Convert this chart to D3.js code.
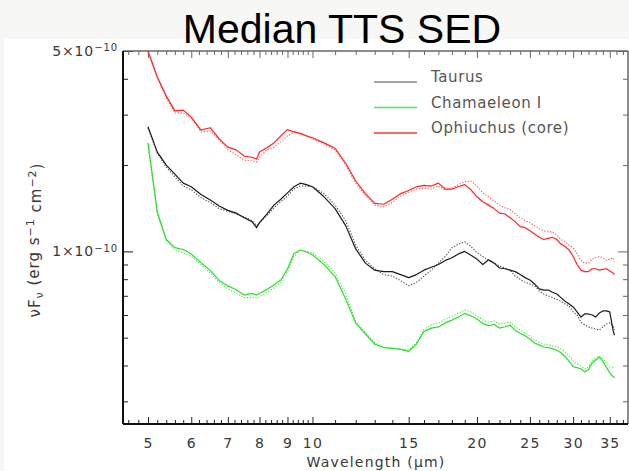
<!DOCTYPE html>
<html>
<head>
<meta charset="utf-8">
<script src="https://cdnjs.cloudflare.com/ajax/libs/d3/7.8.5/d3.min.js"></script>
<style>
    body { margin: 0; background: #f7f7f5; }
    svg { display: block; }
</style>
</head>
<body>
<svg width="629" height="471"></svg>
<script>
    // wavelength grid (micron) shared by all spectra
    var wavelength = [
        5.0, 5.2, 5.4, 5.6, 5.8, 6.0, 6.25, 6.5, 6.75, 7.0, 7.25, 7.5, 7.75,
        7.9,
        8.0, 8.25, 8.5, 8.75, 9.0, 9.25, 9.5, 9.75,
        10, 10.5, 11, 11.5, 12, 12.5, 13, 13.5, 14, 14.5,
        15, 15.5, 16, 16.5, 17, 17.5, 18, 18.5, 19, 19.5,
        20, 20.5, 21, 21.5, 22, 22.5, 23, 23.5, 24, 24.5,
        25, 25.5, 26, 26.5, 27, 27.5, 28, 28.5, 29, 29.5,
        30, 30.5, 31, 31.5, 32, 32.5, 33, 33.5, 34, 34.5,
        35, 35.5, 35.7];

    // nuFnu in units of 1e-10 erg/s/cm2 (solid = median, dotted = second median)
    var taurusSolid = [
        2.72, 2.22, 2.00, 1.86, 1.73, 1.68, 1.58, 1.51, 1.44, 1.39, 1.36, 1.31, 1.27,
        1.21,
        1.26, 1.35, 1.45, 1.52, 1.60, 1.68, 1.73, 1.71,
        1.68, 1.55, 1.41, 1.23, 1.02, 0.91, 0.86, 0.85, 0.85, 0.83,
        0.81, 0.83, 0.86, 0.88, 0.90, 0.93, 0.95, 0.98, 1.00, 0.97,
        0.94, 0.90, 0.935, 0.91, 0.875, 0.87, 0.86, 0.85, 0.83, 0.81,
        0.795, 0.77, 0.74, 0.733, 0.733, 0.72, 0.71, 0.69, 0.67, 0.655,
        0.64, 0.615, 0.59, 0.605, 0.605, 0.60, 0.59, 0.61, 0.62, 0.62,
        0.615, 0.53, 0.51];
    var taurusDotted = [
        2.70, 2.20, 1.97, 1.82, 1.69, 1.64, 1.54, 1.48, 1.41, 1.38, 1.35, 1.32, 1.28,
        1.23,
        1.26, 1.33, 1.42, 1.49, 1.56, 1.65, 1.69, 1.69,
        1.68, 1.59, 1.45, 1.28, 1.05, 0.93, 0.87, 0.83, 0.82, 0.79,
        0.76, 0.78, 0.82, 0.86, 0.91, 0.96, 1.03, 1.06, 1.08, 1.04,
        0.99, 0.96, 0.93, 0.91, 0.89, 0.875, 0.86, 0.82, 0.80, 0.78,
        0.77, 0.76, 0.73, 0.71, 0.70, 0.69, 0.68, 0.67, 0.655, 0.645,
        0.615, 0.60, 0.567, 0.554, 0.545, 0.54, 0.536, 0.532, 0.545, 0.558,
        0.563, 0.549, 0.532];
    var chaSolid = [
        2.39, 1.37, 1.10, 1.03, 1.015, 0.98, 0.914, 0.858, 0.792, 0.758, 0.735, 0.704, 0.714,
        0.704,
        0.713, 0.737, 0.764, 0.795, 0.868, 0.983, 1.011, 0.995,
        0.973, 0.899, 0.817, 0.682, 0.562, 0.515, 0.475, 0.462, 0.459, 0.455,
        0.448, 0.475, 0.526, 0.540, 0.545, 0.563, 0.576, 0.590, 0.607, 0.596,
        0.581, 0.560, 0.551, 0.556, 0.540, 0.546, 0.553, 0.530, 0.518, 0.508,
        0.495, 0.479, 0.472, 0.464, 0.462, 0.458, 0.452, 0.443, 0.430, 0.413,
        0.396, 0.393, 0.389, 0.380, 0.387, 0.408, 0.418, 0.428, 0.413, 0.394,
        0.377, 0.366, 0.362];
    var chaDotted = [
        2.33, 1.35, 1.09, 1.01, 0.99, 0.96, 0.90, 0.84, 0.78, 0.74, 0.715, 0.69, 0.69,
        0.688,
        0.693, 0.721, 0.745, 0.78, 0.85, 0.96, 1.01, 1.00,
        0.99, 0.92, 0.84, 0.71, 0.57, 0.52, 0.48, 0.465, 0.46, 0.457,
        0.453, 0.48, 0.535, 0.555, 0.563, 0.58, 0.595, 0.61, 0.625, 0.615,
        0.596, 0.576, 0.567, 0.571, 0.558, 0.563, 0.567, 0.545, 0.532, 0.519,
        0.507, 0.491, 0.483, 0.475, 0.472, 0.468, 0.464, 0.457, 0.446, 0.432,
        0.415, 0.405, 0.398, 0.389, 0.396, 0.415, 0.425, 0.432, 0.421, 0.408,
        0.396, 0.393, 0.393];
    var ophSolid = [
        5.00, 4.06, 3.48, 3.09, 3.11, 2.94, 2.65, 2.70, 2.47, 2.31, 2.26, 2.15, 2.13,
        2.10,
        2.22, 2.30, 2.39, 2.53, 2.66, 2.61, 2.58, 2.53,
        2.49, 2.39, 2.29, 2.03, 1.76, 1.59, 1.47, 1.46, 1.52, 1.59,
        1.63, 1.68, 1.70, 1.69, 1.73, 1.65, 1.65, 1.68, 1.71, 1.64,
        1.55, 1.49, 1.45, 1.41, 1.36, 1.35, 1.31, 1.27, 1.22, 1.21,
        1.18, 1.15, 1.12, 1.10, 1.11, 1.12, 1.10, 1.06, 1.04, 1.01,
        0.96, 0.90, 0.86, 0.85, 0.85, 0.87, 0.87, 0.86, 0.865, 0.87,
        0.855, 0.84, 0.83];
    var ophDotted = [
        4.96, 4.03, 3.43, 3.04, 3.04, 2.92, 2.61, 2.63, 2.45, 2.26, 2.17, 2.08, 2.07,
        2.05,
        2.13, 2.26, 2.31, 2.41, 2.53, 2.61, 2.57, 2.53,
        2.47, 2.37, 2.26, 2.00, 1.73, 1.57, 1.45, 1.43, 1.48, 1.56,
        1.61, 1.65, 1.66, 1.65, 1.69, 1.64, 1.66, 1.71, 1.75, 1.76,
        1.69, 1.60, 1.55, 1.50, 1.45, 1.42, 1.40, 1.35, 1.31, 1.28,
        1.26, 1.23, 1.20, 1.18, 1.17, 1.17, 1.14, 1.10, 1.08, 1.05,
        1.03, 0.98, 0.93, 0.91, 0.91, 0.94, 0.95, 0.96, 0.95, 0.93,
        0.94, 0.95, 0.92];

    var regions = ["Taurus", "Chamaeleon I", "Ophiuchus (core)"];

    var xTickValues = [5, 6, 7, 8, 9, 10, 15, 20, 25, 30, 35];
    var xTickLabels = ["5", "6", "7", "8", "9", "10", "15", "20", "25", "30", "35"];
    var yTickValues = [1, 5];
    var yTickMantissa = ["1", "5"];
    var yMinorValues = [0.3, 0.4, 0.5, 0.6, 0.7, 0.8, 0.9, 2, 3, 4];

    var series = [
        {name: regions[0], solid: taurusSolid, dotted: taurusDotted, color: "#1c1c1c", dotColor: "#4a4a4a", legendColor: "#8a8a8a"},
        {name: regions[1], solid: chaSolid, dotted: chaDotted, color: "#2fdc2f", dotColor: "#4ee84e", legendColor: "#44ee44"},
        {name: regions[2], solid: ophSolid, dotted: ophDotted, color: "#ff2424", dotColor: "#ff5a5a", legendColor: "#ff3535"}
    ];

    var svg = d3.select("svg");
    var plotL = 123, plotR = 628, plotT = 51, plotB = 424;

    var x = d3.scaleLog().domain([4.5, 37.8]).range([plotL, plotR]);
    var y = d3.scaleLog().domain([0.25, 5]).range([plotB, plotT]);

    // white figure area
    svg.append("rect").attr("x", 4).attr("y", 39).attr("width", 625).attr("height", 432).attr("fill", "#fff");

    svg.append("defs").append("clipPath").attr("id", "plot")
        .append("rect").attr("x", plotL).attr("y", plotT).attr("width", plotR - plotL).attr("height", plotB - plotT);

    var fontAxis = "'DejaVu Sans', sans-serif";

    // minor ticks for x
    var xMinor = d3.range(4.6, 10, 0.2).concat(d3.range(11, 38, 1))
        .filter(function(v) { return !xTickValues.some(function(m) { return Math.abs(m - v) < 1e-6; }); });

    function styleAxis(g, color) {
        g.select(".domain").remove();
        g.selectAll(".tick line").attr("stroke", color).attr("stroke-width", 1);
    }

    // bottom axis
    svg.append("g").attr("transform", "translate(0," + plotB + ")")
        .call(d3.axisBottom(x).tickValues(xMinor).tickSize(-4).tickFormat(""))
        .call(styleAxis, "#222");
    var xb = svg.append("g").attr("transform", "translate(0," + plotB + ")")
        .call(d3.axisBottom(x).tickValues(xTickValues).tickSize(-7).tickPadding(14)
            .tickFormat(function(d, i) { return xTickLabels[i]; }))
        .call(styleAxis, "#222");
    xb.selectAll(".tick text").attr("font-family", fontAxis).attr("font-size", 14)
        .attr("letter-spacing", 1.2).attr("fill", "#383838");

    // top axis (mirrored)
    svg.append("g").attr("transform", "translate(0," + plotT + ")")
        .call(d3.axisTop(x).tickValues(xMinor).tickSize(-4).tickFormat(""))
        .call(styleAxis, "#666");
    svg.append("g").attr("transform", "translate(0," + plotT + ")")
        .call(d3.axisTop(x).tickValues(xTickValues).tickSize(-7).tickFormat(""))
        .call(styleAxis, "#666");

    // left axis
    svg.append("g").attr("transform", "translate(" + plotL + ",0)")
        .call(d3.axisLeft(y).tickValues(yMinorValues).tickSize(-5).tickFormat(""))
        .call(styleAxis, "#222");
    var yl = svg.append("g").attr("transform", "translate(" + plotL + ",0)")
        .call(d3.axisLeft(y).tickValues(yTickValues).tickSize(-10).tickPadding(5))
        .call(styleAxis, "#111");
    yl.selectAll(".tick text").each(function(d, i) {
        var t = d3.select(this).text(null)
            .attr("font-family", fontAxis).attr("font-size", 14).attr("letter-spacing", 0.9).attr("fill", "#383838");
        t.append("tspan").text(yTickMantissa[i] + "\u00d710");
        t.append("tspan").attr("dy", "-0.45em").attr("font-size", 10).text("\u221210");
    });

    // right axis (mirrored)
    svg.append("g").attr("transform", "translate(" + plotR + ",0)")
        .call(d3.axisRight(y).tickValues(yMinorValues).tickSize(-5).tickFormat(""))
        .call(styleAxis, "#666");
    svg.append("g").attr("transform", "translate(" + plotR + ",0)")
        .call(d3.axisRight(y).tickValues(yTickValues).tickSize(-10).tickFormat(""))
        .call(styleAxis, "#666");

    // frame
    svg.append("line").attr("x1", plotL).attr("x2", plotR).attr("y1", plotT).attr("y2", plotT).attr("stroke", "#666").attr("stroke-width", 1.5);
    svg.append("line").attr("x1", plotR).attr("x2", plotR).attr("y1", plotT).attr("y2", plotB).attr("stroke", "#666").attr("stroke-width", 1.5);
    svg.append("line").attr("x1", plotL).attr("x2", plotR).attr("y1", plotB).attr("y2", plotB).attr("stroke", "#111").attr("stroke-width", 2);
    svg.append("line").attr("x1", plotL).attr("x2", plotL).attr("y1", plotT).attr("y2", plotB).attr("stroke", "#111").attr("stroke-width", 2);

    // spectra
    var line = d3.line()
        .x(function(d) { return x(d[0]); })
        .y(function(d) { return y(d[1]); });

    var plot = svg.append("g").attr("clip-path", "url(#plot)");
    series.forEach(function(s) {
        plot.append("path").datum(d3.zip(wavelength, s.dotted))
            .attr("fill", "none").attr("stroke", s.dotColor).attr("stroke-width", 1.1)
            .attr("stroke-dasharray", "1.3,1.6").attr("d", line);
        plot.append("path").datum(d3.zip(wavelength, s.solid))
            .attr("fill", "none").attr("stroke", s.color).attr("stroke-width", 1.2)
            .attr("stroke-linejoin", "round").attr("d", line);
    });

    // legend
    var legend = svg.append("g").selectAll("g")
        .data(series)
        .enter().append("g")
        .attr("transform", function(d, i) { return "translate(374," + (82 + i * 25.5) + ")"; });
    legend.append("line").attr("x1", 0).attr("x2", 43)
        .attr("stroke", function(d) { return d.legendColor; }).attr("stroke-width", 1.5);
    legend.append("text").attr("x", 57).attr("y", 0)
        .attr("font-family", fontAxis).attr("font-size", 15).attr("letter-spacing", 0.6)
        .attr("fill", "#555")
        .text(function(d) { return d.name; });

    // axis titles
    svg.append("text").attr("x", 376).attr("y", 467).attr("text-anchor", "middle")
        .attr("font-family", fontAxis).attr("font-size", 14).attr("letter-spacing", 1.2).attr("fill", "#383838")
        .text("Wavelength (\u03bcm)");

    var yt = svg.append("text").attr("transform", "translate(40,240) rotate(-90)")
        .attr("text-anchor", "middle")
        .attr("font-family", fontAxis).attr("font-size", 15).attr("letter-spacing", 1).attr("fill", "#383838");
    yt.append("tspan").text("\u03bdF");
    yt.append("tspan").attr("dy", "0.3em").attr("font-size", 11).text("\u03bd");
    yt.append("tspan").attr("dy", "-0.3em").text(" (erg s");
    yt.append("tspan").attr("dy", "-0.45em").attr("font-size", 11).text("\u22121");
    yt.append("tspan").attr("dy", "0.45em").text(" cm");
    yt.append("tspan").attr("dy", "-0.45em").attr("font-size", 11).text("\u22122");
    yt.append("tspan").attr("dy", "0.45em").text(")");

    // title
    svg.append("text").attr("x", 342).attr("y", 43).attr("text-anchor", "middle")
        .attr("font-family", "'Liberation Sans', Arial, sans-serif").attr("font-size", 41)
        .attr("fill", "#000")
        .text("Median TTS SED");
</script>
</body>
</html>
